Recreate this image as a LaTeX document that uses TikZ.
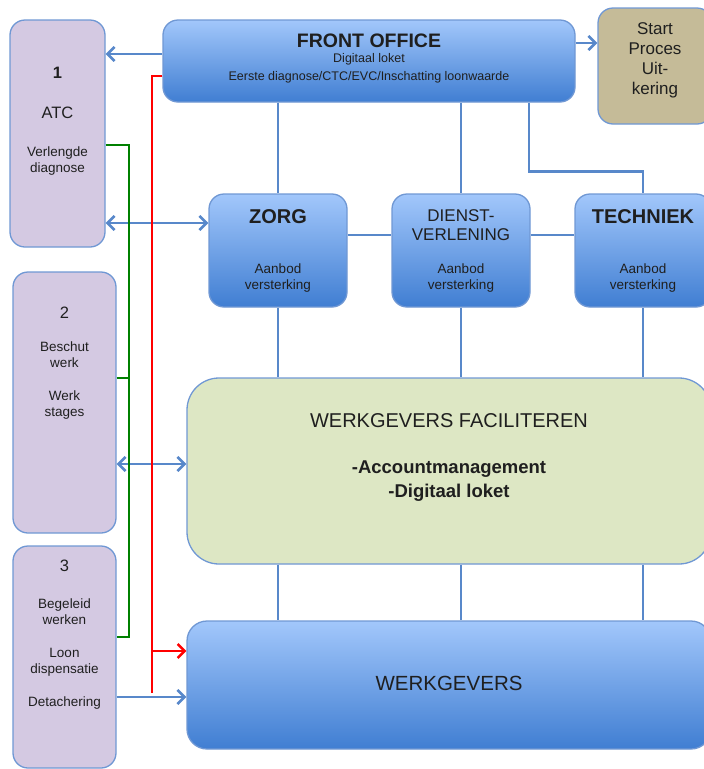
\documentclass[tikz,border=0pt]{standalone}
\usepackage{fontspec}
\setmainfont{Liberation Sans}
\usetikzlibrary{arrows.meta}

\definecolor{lijnblauw}{RGB}{88,136,202}
\definecolor{randblauw}{RGB}{112,152,212}
\definecolor{blauwlicht}{RGB}{162,199,251}
\definecolor{blauwdonker}{RGB}{64,126,210}
\definecolor{lila}{RGB}{212,201,226}
\definecolor{lichtgroen}{RGB}{221,231,196}
\definecolor{zand}{RGB}{197,187,152}
\definecolor{groenlijn}{RGB}{0,128,0}
\definecolor{roodlijn}{RGB}{255,0,0}

\newcommand{\lettergrootte}[2]{\fontsize{#1}{#2}\selectfont}

\begin{document}
\begin{tikzpicture}[x=1pt, y=-1pt,
    blok/.style={draw=randblauw, line width=1.3pt, rounded corners=15pt, inner sep=0pt},
    blauwblok/.style={blok, top color=blauwlicht, bottom color=blauwdonker},
    lilablok/.style={blok, fill=lila},
    tekst/.style={anchor=base, align=center, inner sep=0pt, text=black!88},
    verbinding/.style={draw=lijnblauw, line width=2.7pt},
    pijl/.style={verbinding, -{Straight Barb[length=7pt, width=14pt]}},
    dubbelpijl/.style={verbinding, {Straight Barb[length=7pt, width=14pt]}-{Straight Barb[length=7pt, width=14pt]}},
    groen/.style={draw=groenlijn, line width=2.4pt},
    rood/.style={draw=roodlijn, line width=2.4pt}
]
            \useasboundingbox (0,0) rectangle (704,769);

            % Trajecten links
            \node[lilablok, minimum width=95, minimum height=227] (atc) at (57.5,133.5) {};
            \node[lilablok, minimum width=103, minimum height=261] (beschut) at (64.5,402.5) {};
            \node[lilablok, minimum width=103, minimum height=222] (begeleid) at (64.5,657) {};

            % Front office en uitkering
            \node[blauwblok, minimum width=412, minimum height=82] (fo) at (369,61) {};
            \node[blok, fill=zand, minimum width=114, minimum height=116] (start) at (655,66) {};

            % Aanbod
            \node[blauwblok, minimum width=138, minimum height=113] (zorg) at (278,250.5) {};
            \node[blauwblok, minimum width=138, minimum height=113] (dienst) at (461,250.5) {};
            \node[blauwblok, minimum width=136, minimum height=113] (techniek) at (643,250.5) {};

            % Werkgevers
            \node[blok, fill=lichtgroen, rounded corners=32pt, minimum width=524, minimum height=186] (faciliteren) at (449,471) {};
            \node[blauwblok, rounded corners=20pt, minimum width=524, minimum height=128] (werkgevers) at (449,685) {};

            % Teksten (anchor=base ligt op de laatste regel)
            \node[tekst, font=\lettergrootte{16.5}{20}\bfseries] (atcnr) at (57.5,78) {1};
            \node[tekst, font=\lettergrootte{16.5}{20}] (atcnaam) at (57.5,118) {ATC};
            \node[tekst, font=\lettergrootte{13.5}{15.5}] (atctekst) at (57.5,172) {Verlengde\\diagnose};

            \node[tekst, font=\lettergrootte{16.5}{20}] (beschutnr) at (64.5,318) {2};
            \node[tekst, font=\lettergrootte{13.5}{16}] (beschuttekst) at (64.5,416) {Beschut\\werk\\[17pt]Werk\\stages};

            \node[tekst, font=\lettergrootte{16.5}{20}] (begeleidnr) at (64.5,571) {3};
            \node[tekst, font=\lettergrootte{13.5}{16.5}] (begeleidtekst) at (64.5,706) {Begeleid\\werken\\[16pt]Loon\\dispensatie\\[16pt]Detachering};

            \node[tekst, font=\lettergrootte{19.5}{22}\bfseries] (fotitel) at (369,47) {FRONT OFFICE};
            \node[tekst, font=\lettergrootte{12.5}{15}] (foloket) at (369,62.5) {Digitaal loket};
            \node[tekst, font=\lettergrootte{12.5}{15}] (fodiagnose) at (369,80) {Eerste diagnose/CTC/EVC/Inschatting loonwaarde};

            \node[tekst, font=\lettergrootte{17}{20}] (starttekst) at (655,94) {Start\\Proces\\Uit-\\kering};

            \node[tekst, font=\lettergrootte{20}{22}\bfseries] (zorgtitel) at (278,223) {ZORG};
            \node[tekst, font=\lettergrootte{13.5}{16}] (zorgtekst) at (278,289) {Aanbod\\versterking};
            \node[tekst, font=\lettergrootte{17}{19}] (diensttitel) at (461,240) {DIENST-\\VERLENING};
            \node[tekst, font=\lettergrootte{13.5}{16}] (diensttekst) at (461,289) {Aanbod\\versterking};
            \node[tekst, font=\lettergrootte{20}{22}\bfseries] (technieknaam) at (643,223) {TECHNIEK};
            \node[tekst, font=\lettergrootte{13.5}{16}] (techniektekst) at (643,289) {Aanbod\\versterking};

            \node[tekst, font=\lettergrootte{20}{22}] (facilitertitel) at (449,427) {WERKGEVERS FACILITEREN};
            \node[tekst, font=\lettergrootte{18.5}{24}\bfseries] (facilitertekst) at (449,497) {-Accountmanagement\\-Digitaal loket};
            \node[tekst, font=\lettergrootte{20.5}{22}] (werkgeverstitel) at (449,690) {WERKGEVERS};

            % Verbindingen
            \draw[pijl] ([yshift=7pt]fo.west) -- ([yshift=7pt]fo.west -| atc.east);
            \draw[pijl] ([yshift=18pt]fo.east) -- ([yshift=18pt]fo.east -| start.west);
            \draw[verbinding] (fo.south -| zorg.north) -- (zorg.north);
            \draw[verbinding] (fo.south -| dienst.north) -- (dienst.north);
            \draw[verbinding] ([xshift=160pt]fo.south) -- ++(0,69) -| (techniek.north);
            \draw[verbinding] ([yshift=15.5pt]zorg.east) -- ([yshift=15.5pt]zorg.east -| dienst.west);
            \draw[verbinding] ([yshift=15.5pt]dienst.east) -- ([yshift=15.5pt]dienst.east -| techniek.west);
            \draw[dubbelpijl] ([yshift=27.5pt]zorg.west -| atc.east) -- ([yshift=27.5pt]zorg.west);

            \draw[verbinding] (zorg.south) -- (zorg.south |- faciliteren.north);
            \draw[verbinding] (dienst.south) -- (dienst.south |- faciliteren.north);
            \draw[verbinding] (techniek.south) -- (techniek.south |- faciliteren.north);
            \draw[verbinding] (faciliteren.south -| zorg) -- (werkgevers.north -| zorg);
            \draw[verbinding] (faciliteren.south -| dienst) -- (werkgevers.north -| dienst);
            \draw[verbinding] (faciliteren.south -| techniek) -- (werkgevers.north -| techniek);

            \draw[dubbelpijl] ([yshift=7pt]faciliteren.west -| beschut.east) -- ([yshift=7pt]faciliteren.west);
            \draw[pijl] ([yshift=-12pt]werkgevers.west -| begeleid.east) -- ([yshift=-12pt]werkgevers.west);

            % Groene lijn
            \coordinate (groenonder) at (129,637);
            \coordinate (groentak) at (129,378);
            \draw[groen] ([yshift=-11.5pt]atc.east) -| (groenonder) -- (groenonder -| begeleid.east);
            \draw[groen] (groentak -| beschut.east) -- (groentak);

            % Rode lijn
            \coordinate (roodonder) at (152,693);
            \coordinate (roodtak) at (152,651);
            \draw[rood] ([yshift=-15pt]fo.west) -| (roodonder);
            \draw[rood, -{Straight Barb[length=7pt, width=14pt]}] (roodtak) -- (roodtak -| werkgevers.west);

\end{tikzpicture}
\end{document}
